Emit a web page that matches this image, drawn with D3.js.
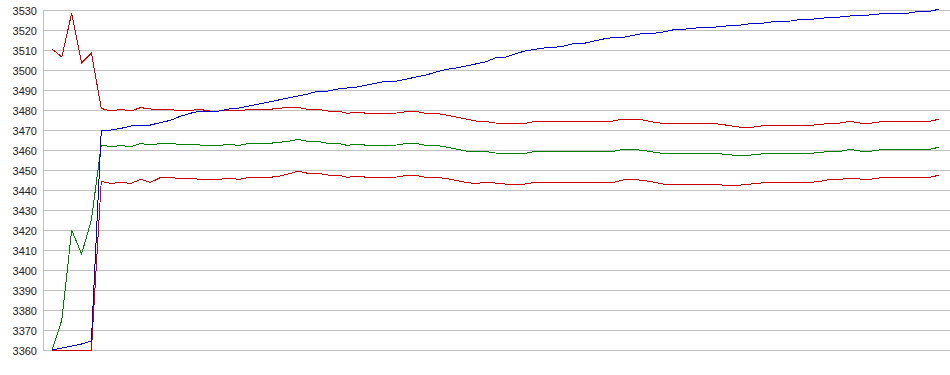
<!DOCTYPE html>
<html>

<head>
  <meta charset="utf-8">
  <title>Chart</title>
  <style>
    body {
      margin: 0;
      background: #fff;
    }

    .grid line {
      stroke: #c0c0c0;
      stroke-width: 1px;
      shape-rendering: crispEdges;
    }

    .tick-label {
      font-family: "Liberation Sans", Arial, sans-serif;
      font-size: 11px;
      fill: #222;
    }

    .series {
      fill: none;
      stroke-width: 1px;
      shape-rendering: crispEdges;
    }
  </style>
</head>

<body>
  <svg width="950" height="375"></svg>

  <script src="https://cdn.jsdelivr.net/npm/d3@7"></script>
  <script>
    // y axis ticks
    var yTicks = [3360, 3370, 3380, 3390, 3400, 3410, 3420, 3430, 3440, 3450,
      3460, 3470, 3480, 3490, 3500, 3510, 3520, 3530];

    // series values (one point per step, 91 steps)
    var upperRed = [
      3510.5, 3506.5, 3528.5, 3503.5, 3508.5, 3480.8, 3479.5, 3480.3, 3479.5, 3481.2,
      3480.5, 3480.3, 3480.3, 3479.5, 3479.8, 3480.3, 3479.5, 3479.5, 3479.8, 3479.5,
      3480.3, 3480.3, 3480.3, 3480.8, 3481.3, 3481.3, 3480.3, 3480.3, 3479.5, 3479.5,
      3478.3, 3479.0, 3478.3, 3478.3, 3478.3, 3478.5, 3479.2, 3479.2, 3478.3, 3478.3,
      3477.5, 3476.5, 3475.5, 3474.5, 3474.3, 3473.5, 3473.3, 3473.3, 3473.3, 3474.3,
      3474.3, 3474.3, 3474.3, 3474.3, 3474.3, 3474.3, 3474.3, 3474.5, 3475.5, 3475.5,
      3475.0, 3474.0, 3473.3, 3473.3, 3473.3, 3473.3, 3473.3, 3473.3, 3472.8, 3472.0,
      3471.3, 3471.3, 3472.0, 3472.3, 3472.3, 3472.3, 3472.3, 3472.3, 3472.8, 3473.3,
      3473.5, 3474.3, 3473.5, 3473.3, 3474.0, 3474.3, 3474.3, 3474.3, 3474.3, 3474.3,
      3475.3
    ];

    var middleGreen = [
      3360.0, 3375.0, 3420.0, 3408.0, 3425.0, 3462.5, 3461.7, 3462.2, 3461.7, 3463.3,
      3462.5, 3463.3, 3463.3, 3462.8, 3462.8, 3462.5, 3462.3, 3462.3, 3462.8, 3462.3,
      3463.3, 3463.3, 3463.3, 3463.8, 3464.3, 3465.3, 3464.3, 3464.3, 3463.3, 3463.3,
      3462.3, 3463.0, 3462.3, 3462.3, 3462.3, 3462.5, 3463.3, 3463.3, 3462.3, 3462.3,
      3461.5, 3460.5, 3459.5, 3459.3, 3459.3, 3458.5, 3458.3, 3458.3, 3458.3, 3459.3,
      3459.3, 3459.3, 3459.3, 3459.3, 3459.3, 3459.3, 3459.3, 3459.3, 3460.3, 3460.3,
      3459.8, 3459.0, 3458.3, 3458.3, 3458.3, 3458.3, 3458.3, 3458.3, 3458.0, 3457.5,
      3457.5, 3457.5, 3458.0, 3458.3, 3458.3, 3458.3, 3458.3, 3458.3, 3458.8, 3459.3,
      3459.3, 3460.3, 3459.5, 3459.3, 3460.0, 3460.3, 3460.3, 3460.3, 3460.3, 3460.3,
      3461.3
    ];

    var lowerRed = [
      3360.0, 3360.0, 3360.0, 3360.0, 3360.0, 3444.3, 3443.3, 3443.8, 3443.3, 3445.3,
      3443.8, 3446.2, 3446.2, 3445.8, 3446.0, 3445.3, 3445.3, 3445.3, 3446.0, 3445.3,
      3446.3, 3446.3, 3446.3, 3446.8, 3448.0, 3449.5, 3448.3, 3448.3, 3447.5, 3447.5,
      3446.3, 3447.0, 3446.3, 3446.3, 3446.3, 3446.5, 3447.3, 3447.3, 3446.3, 3446.3,
      3445.8, 3444.8, 3443.8, 3443.2, 3443.8, 3443.5, 3443.0, 3443.0, 3443.0, 3443.8,
      3443.8, 3443.8, 3443.8, 3443.8, 3443.8, 3443.8, 3443.8, 3443.8, 3445.0, 3445.3,
      3444.8, 3444.0, 3443.0, 3443.0, 3443.0, 3443.0, 3443.0, 3443.0, 3442.5, 3442.0,
      3442.5, 3443.0, 3443.5, 3443.8, 3443.8, 3443.8, 3443.8, 3443.8, 3444.3, 3445.3,
      3445.3, 3446.0, 3445.5, 3445.3, 3446.0, 3446.3, 3446.3, 3446.3, 3446.3, 3446.3,
      3447.3
    ];

    var blueLine = [
      3360.0, 3361.0, 3362.0, 3363.0, 3364.5, 3469.5, 3470.0, 3470.8, 3472.0, 3472.5,
      3472.5, 3473.7, 3474.8, 3476.8, 3478.3, 3479.5, 3479.5, 3479.5, 3480.5, 3481.0,
      3482.0, 3483.0, 3484.0, 3485.0, 3486.0, 3487.0, 3488.0, 3489.5, 3489.5, 3490.5,
      3491.0, 3491.5, 3492.5, 3493.5, 3494.5, 3494.5, 3495.5, 3496.5, 3497.5, 3499.0,
      3500.3, 3501.0, 3502.0, 3503.0, 3504.0, 3506.0, 3506.3, 3508.0, 3509.5, 3510.3,
      3511.0, 3511.3, 3512.0, 3513.3, 3513.3, 3514.5, 3515.5, 3516.3, 3516.3, 3517.3,
      3518.3, 3518.3, 3519.0, 3520.0, 3520.3, 3520.8, 3521.3, 3521.3, 3521.8, 3522.3,
      3522.5, 3523.3, 3523.3, 3524.0, 3524.3, 3524.5, 3525.3, 3525.3, 3525.8, 3526.3,
      3526.5, 3527.0, 3527.3, 3527.5, 3528.0, 3528.3, 3528.3, 3528.5, 3529.3, 3529.3,
      3530.3
    ];

    var seriesList = [
      { values: upperRed, color: "#cc0000" },
      { values: middleGreen, color: "#008000" },
      { values: lowerRed, color: "#cc0000" },
      { values: blueLine, color: "#0000cc" }
    ];

    var svg = d3.select("svg");

    // escalas
    var x = d3.scaleLinear()
      .domain([0, upperRed.length - 1])
      .range([52, 938.5]);

    var y = d3.scaleLinear()
      .domain([3360, 3530])
      .range([350, 10]);

    // linhas de grade horizontais
    var grid = svg.append("g").attr("class", "grid");

    grid.selectAll("line.h")
      .data(yTicks)
      .enter().append("line")
      .attr("class", "h")
      .attr("x1", 43)
      .attr("x2", 950)
      .attr("y1", function (d) { return y(d) + 0.5; })
      .attr("y2", function (d) { return y(d) + 0.5; });

    // linha vertical do eixo
    grid.append("line")
      .attr("x1", 43.5)
      .attr("x2", 43.5)
      .attr("y1", y(3530))
      .attr("y2", y(3360) + 1);

    // rótulos do eixo y
    svg.selectAll(".tick-label")
      .data(yTicks)
      .enter().append("text")
      .attr("class", "tick-label")
      .attr("x", 37)
      .attr("y", function (d) { return y(d) + 0.5; })
      .attr("text-anchor", "end")
      .attr("dominant-baseline", "central")
      .text(function (d) { return d; });

    // séries
    var line = d3.line()
      .x(function (d, i) { return x(i); })
      .y(function (d) { return y(d); });

    svg.selectAll(".series")
      .data(seriesList)
      .enter().append("path")
      .attr("class", "series")
      .attr("stroke", function (d) { return d.color; })
      .attr("d", function (d) { return line(d.values); });
  </script>
</body>

</html>
